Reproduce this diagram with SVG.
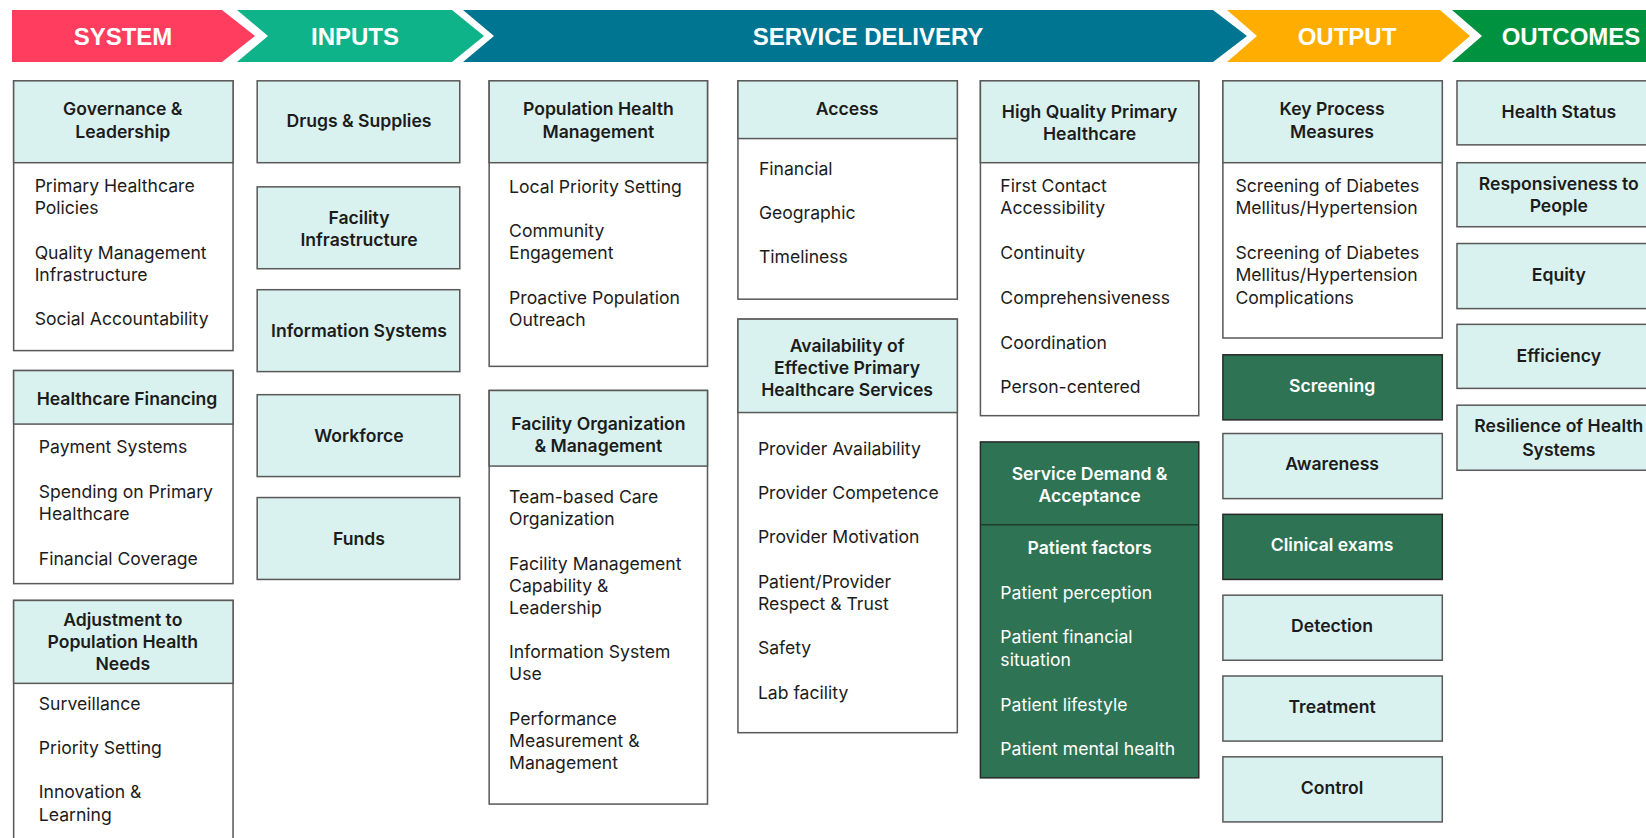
<svg xmlns="http://www.w3.org/2000/svg" width="1646" height="838" viewBox="0 0 1646 838">
<style>
.bg{fill:#ffffff}
.lt{fill:#daf2ef;stroke:#5a5a5a;stroke-width:1.45}
.wb{fill:#ffffff;stroke:#5a5a5a;stroke-width:1.45}
.dk{fill:#2e7353;stroke:#2a2a2a;stroke-width:1.45}
.lnd{stroke:#1f3d2c;stroke-width:1.45}
text{font-family:Inter,"Liberation Sans",sans-serif;font-size:16.75px;fill:#1c1c1c}
.h{font-weight:600;text-anchor:middle}
.hw{font-weight:600;text-anchor:middle;fill:#ffffff}
.tw{fill:#ffffff}
.band{font-family:"Liberation Sans",Arial,sans-serif;font-weight:700;font-size:24px;fill:#ffffff;text-anchor:middle}
</style>
<rect class="bg" x="0" y="0" width="1646" height="838"/>

<g id="header">
<polygon points="12,10 222,10 255,36 222,62 12,62" fill="#ff3d5f"/>
<polygon points="237,10 452,10 484,36 452,62 237,62 268,36" fill="#0fb389"/>
<polygon points="463,10 1213,10 1247,36 1213,62 463,62 494,36" fill="#007591"/>
<polygon points="1227,10 1440,10 1470,36 1440,62 1227,62 1257,36" fill="#ffad00"/>
<polygon points="1452,10 1646,10 1646,62 1452,62 1482,36" fill="#00923f"/>
<text class="band" x="123" y="44.5">SYSTEM</text>
<text class="band" x="355" y="44.5">INPUTS</text>
<text class="band" x="868" y="44.5">SERVICE DELIVERY</text>
<text class="band" x="1347" y="44.5">OUTPUT</text>
<text class="band" x="1571" y="44.5">OUTCOMES</text>
</g>

<g id="content" transform="scale(1.0497)">
<!-- SYSTEM column -->
<g id="governance">
<rect class="wb" x="13" y="77" width="209" height="257"/>
<rect class="lt" x="13" y="77" width="209" height="78"/>
<text class="h" x="117" y="110">Governance &amp;</text>
<text class="h" x="117" y="131">Leadership</text>
<text x="33" y="183">Primary Healthcare</text>
<text x="33" y="204">Policies</text>
<text x="33" y="247">Quality Management</text>
<text x="33" y="268">Infrastructure</text>
<text x="33" y="310">Social Accountability</text>
</g>
<g id="financing">
<rect class="wb" x="13" y="353" width="209" height="203"/>
<rect class="lt" x="13" y="353" width="209" height="51"/>
<text class="h" x="121" y="386">Healthcare Financing</text>
<text x="37" y="432">Payment Systems</text>
<text x="37" y="474">Spending on Primary</text>
<text x="37" y="495">Healthcare</text>
<text x="37" y="538">Financial Coverage</text>
</g>
<g id="adjustment">
<rect class="wb" x="13" y="572" width="209" height="240"/>
<rect class="lt" x="13" y="572" width="209" height="79"/>
<text class="h" x="117" y="596">Adjustment to</text>
<text class="h" x="117" y="617">Population Health</text>
<text class="h" x="117" y="638">Needs</text>
<text x="37" y="676">Surveillance</text>
<text x="37" y="718">Priority Setting</text>
<text x="37" y="760">Innovation &amp;</text>
<text x="37" y="782">Learning</text>
</g>

<!-- INPUTS column -->
<g id="drugs">
<rect class="lt" x="245" y="77" width="193" height="78"/>
<text class="h" x="342" y="121">Drugs &amp; Supplies</text>
</g>
<g id="facility-infra">
<rect class="lt" x="245" y="178" width="193" height="78"/>
<text class="h" x="342" y="213">Facility</text>
<text class="h" x="342" y="234">Infrastructure</text>
</g>
<g id="info-systems">
<rect class="lt" x="245" y="276" width="193" height="78"/>
<text class="h" x="342" y="321">Information Systems</text>
</g>
<g id="workforce">
<rect class="lt" x="245" y="376" width="193" height="78"/>
<text class="h" x="342" y="421">Workforce</text>
</g>
<g id="funds">
<rect class="lt" x="245" y="474" width="193" height="78"/>
<text class="h" x="342" y="519">Funds</text>
</g>

<!-- SERVICE DELIVERY column A -->
<g id="pop-health">
<rect class="wb" x="466" y="77" width="208" height="272"/>
<rect class="lt" x="466" y="77" width="208" height="78"/>
<text class="h" x="570" y="110">Population Health</text>
<text class="h" x="570" y="131">Management</text>
<text x="485" y="184">Local Priority Setting</text>
<text x="485" y="226">Community</text>
<text x="485" y="247">Engagement</text>
<text x="485" y="290">Proactive Population</text>
<text x="485" y="311">Outreach</text>
</g>
<g id="facility-org">
<rect class="wb" x="466" y="372" width="208" height="394"/>
<rect class="lt" x="466" y="372" width="208" height="72"/>
<text class="h" x="570" y="410">Facility Organization</text>
<text class="h" x="570" y="431">&amp; Management</text>
<text x="485" y="479">Team-based Care</text>
<text x="485" y="500">Organization</text>
<text x="485" y="543">Facility Management</text>
<text x="485" y="564">Capability &amp;</text>
<text x="485" y="585">Leadership</text>
<text x="485" y="627">Information System</text>
<text x="485" y="648">Use</text>
<text x="485" y="691">Performance</text>
<text x="485" y="712">Measurement &amp;</text>
<text x="485" y="733">Management</text>
</g>

<!-- SERVICE DELIVERY column B -->
<g id="access">
<rect class="wb" x="703" y="77" width="209" height="208"/>
<rect class="lt" x="703" y="77" width="209" height="55"/>
<text class="h" x="807" y="110">Access</text>
<text x="723" y="167">Financial</text>
<text x="723" y="209">Geographic</text>
<text x="723" y="251">Timeliness</text>
</g>
<g id="availability">
<rect class="wb" x="703" y="304" width="209" height="394"/>
<rect class="lt" x="703" y="304" width="209" height="89"/>
<text class="h" x="807" y="335">Availability of</text>
<text class="h" x="807" y="356">Effective Primary</text>
<text class="h" x="807" y="377">Healthcare Services</text>
<text x="722" y="433">Provider Availability</text>
<text x="722" y="475">Provider Competence</text>
<text x="722" y="517">Provider Motivation</text>
<text x="722" y="560">Patient/Provider</text>
<text x="722" y="581">Respect &amp; Trust</text>
<text x="722" y="623">Safety</text>
<text x="722" y="666">Lab facility</text>
</g>

<!-- SERVICE DELIVERY column C -->
<g id="high-quality">
<rect class="wb" x="934" y="77" width="208" height="319"/>
<rect class="lt" x="934" y="77" width="208" height="78"/>
<text class="h" x="1038" y="112">High Quality Primary</text>
<text class="h" x="1038" y="133">Healthcare</text>
<text x="953" y="183">First Contact</text>
<text x="953" y="204">Accessibility</text>
<text x="953" y="247">Continuity</text>
<text x="953" y="290">Comprehensiveness</text>
<text x="953" y="332">Coordination</text>
<text x="953" y="374">Person-centered</text>
</g>
<g id="service-demand">
<rect class="dk" x="934" y="421" width="208" height="320"/>
<line class="lnd" x1="934" y1="500" x2="1142" y2="500"/>
<text class="hw" x="1038" y="457">Service Demand &amp;</text>
<text class="hw" x="1038" y="478">Acceptance</text>
<text class="hw" x="1038" y="528">Patient factors</text>
<text class="tw" x="953" y="571">Patient perception</text>
<text class="tw" x="953" y="613">Patient financial</text>
<text class="tw" x="953" y="634">situation</text>
<text class="tw" x="953" y="677">Patient lifestyle</text>
<text class="tw" x="953" y="719">Patient mental health</text>
</g>

<!-- OUTPUT column -->
<g id="key-process">
<rect class="wb" x="1165" y="77" width="209" height="245"/>
<rect class="lt" x="1165" y="77" width="209" height="78"/>
<text class="h" x="1269" y="110">Key Process</text>
<text class="h" x="1269" y="131">Measures</text>
<text x="1177" y="183">Screening of Diabetes</text>
<text x="1177" y="204">Mellitus/Hypertension</text>
<text x="1177" y="247">Screening of Diabetes</text>
<text x="1177" y="268">Mellitus/Hypertension</text>
<text x="1177" y="290">Complications</text>
</g>
<g id="screening">
<rect class="dk" x="1165" y="338" width="209" height="62"/>
<text class="hw" x="1269" y="373">Screening</text>
</g>
<g id="awareness">
<rect class="lt" x="1165" y="413" width="209" height="62"/>
<text class="h" x="1269" y="448">Awareness</text>
</g>
<g id="clinical-exams">
<rect class="dk" x="1165" y="490" width="209" height="62"/>
<text class="hw" x="1269" y="525">Clinical exams</text>
</g>
<g id="detection">
<rect class="lt" x="1165" y="567" width="209" height="62"/>
<text class="h" x="1269" y="602">Detection</text>
</g>
<g id="treatment">
<rect class="lt" x="1165" y="644" width="209" height="62"/>
<text class="h" x="1269" y="679">Treatment</text>
</g>
<g id="control">
<rect class="lt" x="1165" y="721" width="209" height="62"/>
<text class="h" x="1269" y="756">Control</text>
</g>

<!-- OUTCOMES column -->
<g id="health-status">
<rect class="lt" x="1388" y="77" width="270" height="61"/>
<text class="h" x="1485" y="112">Health Status</text>
</g>
<g id="responsiveness">
<rect class="lt" x="1388" y="155" width="270" height="61"/>
<text class="h" x="1485" y="181">Responsiveness to</text>
<text class="h" x="1485" y="202">People</text>
</g>
<g id="equity">
<rect class="lt" x="1388" y="232" width="270" height="62"/>
<text class="h" x="1485" y="268">Equity</text>
</g>
<g id="efficiency">
<rect class="lt" x="1388" y="309" width="270" height="61"/>
<text class="h" x="1485" y="345">Efficiency</text>
</g>
<g id="resilience">
<rect class="lt" x="1388" y="386" width="270" height="62"/>
<text class="h" x="1485" y="412">Resilience of Health</text>
<text class="h" x="1485" y="434">Systems</text>
</g>
</g>
</svg>
